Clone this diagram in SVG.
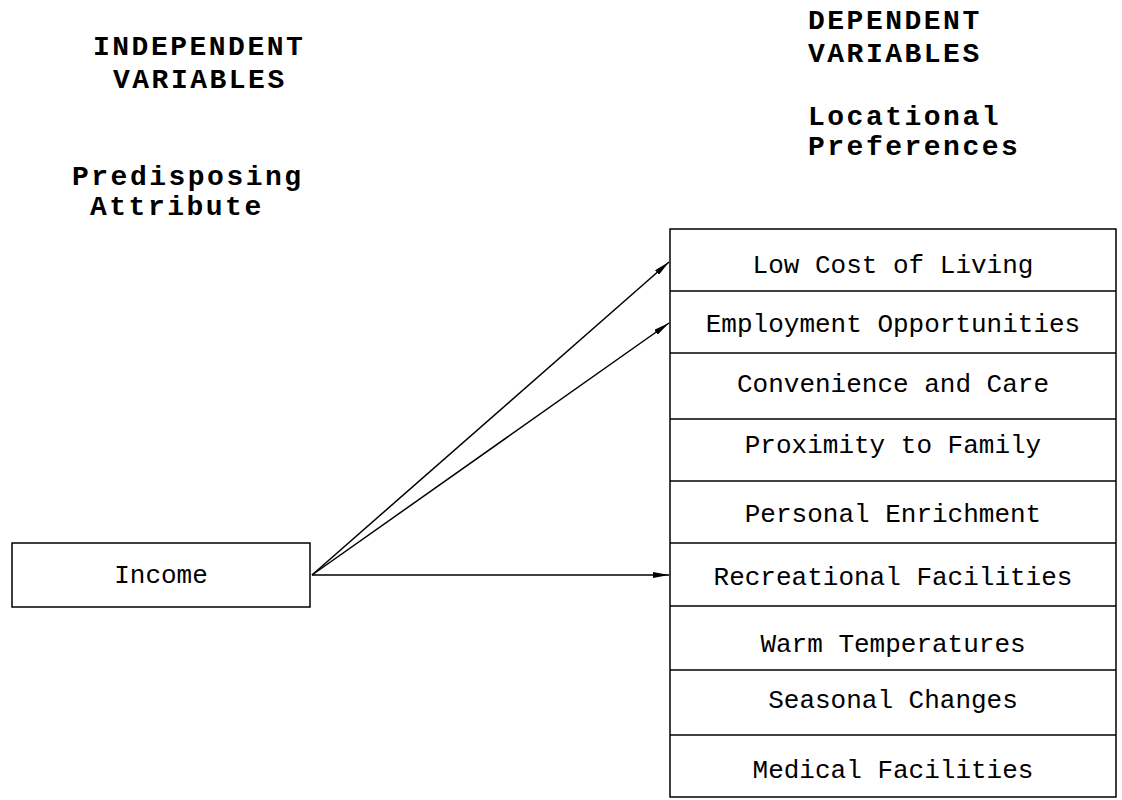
<svg xmlns="http://www.w3.org/2000/svg" width="1122" height="800" viewBox="0 0 1122 800">
<style>
.hdr{font-family:"Liberation Mono","Courier New",monospace;font-weight:bold;font-size:28px;letter-spacing:2.5px;fill:#000}
.lbl{font-family:"Liberation Mono","Courier New",monospace;font-size:26px;fill:#000;text-anchor:middle}
.box{fill:#fff;stroke:#000;stroke-width:1.5}
.div{stroke:#000;stroke-width:1.5}
.edge{stroke:#000;stroke-width:1.5;fill:none;marker-end:url(#ah)}
</style>
<defs>
<marker id="ah" viewBox="0 0 16 6" refX="16" refY="3" markerWidth="16" markerHeight="6" markerUnits="userSpaceOnUse" orient="auto">
<path d="M0,0 L16,3 L0,6 Z" fill="#000"/>
</marker>
</defs>
<rect width="1122" height="800" fill="#fff"/>
<g id="headers">
<text class="hdr" x="93" y="55">INDEPENDENT</text>
<text class="hdr" x="113" y="88">VARIABLES</text>
<text class="hdr" x="72" y="185">Predisposing</text>
<text class="hdr" x="90" y="215">Attribute</text>
<text class="hdr" x="808" y="29">DEPENDENT</text>
<text class="hdr" x="808" y="62">VARIABLES</text>
<text class="hdr" x="808" y="125">Locational</text>
<text class="hdr" x="808" y="155">Preferences</text>
</g>
<g id="income">
<rect class="box" x="12" y="543" width="298" height="64"/>
<text class="lbl" x="161" y="583">Income</text>
</g>
<g id="preferences">
<rect class="box" x="670" y="229" width="446" height="568"/>
<line class="div" x1="670" y1="291" x2="1116" y2="291"/>
<line class="div" x1="670" y1="353" x2="1116" y2="353"/>
<line class="div" x1="670" y1="419" x2="1116" y2="419"/>
<line class="div" x1="670" y1="481" x2="1116" y2="481"/>
<line class="div" x1="670" y1="543" x2="1116" y2="543"/>
<line class="div" x1="670" y1="606" x2="1116" y2="606"/>
<line class="div" x1="670" y1="670" x2="1116" y2="670"/>
<line class="div" x1="670" y1="735" x2="1116" y2="735"/>
</g>
<g id="pref-low-cost"><text class="lbl" x="893" y="273">Low Cost of Living</text></g>
<g id="pref-employment"><text class="lbl" x="893" y="332">Employment Opportunities</text></g>
<g id="pref-convenience"><text class="lbl" x="893" y="392">Convenience and Care</text></g>
<g id="pref-family"><text class="lbl" x="893" y="453">Proximity to Family</text></g>
<g id="pref-enrichment"><text class="lbl" x="893" y="522">Personal Enrichment</text></g>
<g id="pref-recreational"><text class="lbl" x="893" y="585">Recreational Facilities</text></g>
<g id="pref-warm"><text class="lbl" x="893" y="652">Warm Temperatures</text></g>
<g id="pref-seasonal"><text class="lbl" x="893" y="708">Seasonal Changes</text></g>
<g id="pref-medical"><text class="lbl" x="893" y="778">Medical Facilities</text></g>
<g id="connectors">
<line class="edge" x1="312" y1="575" x2="669" y2="262"/>
<line class="edge" x1="312" y1="575" x2="669" y2="323"/>
<line class="edge" x1="312" y1="575" x2="669" y2="575"/>
</g>
</svg>
